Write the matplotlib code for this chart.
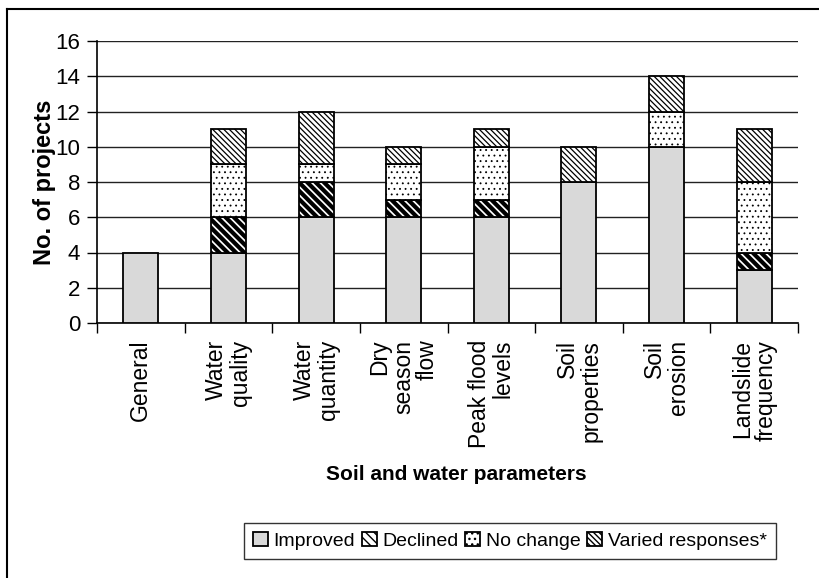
import matplotlib
matplotlib.use("Agg")
import matplotlib.pyplot as plt
import numpy as np
from matplotlib.patches import Patch
from matplotlib.lines import Line2D

plt.rcParams['font.family'] = ['Liberation Sans', 'DejaVu Sans']

categories = ["General", "Water\nquality", "Water\nquantity", "Dry\nseason\nflow",
              "Peak flood\nlevels", "Soil\nproperties", "Soil\nerosion", "Landslide\nfrequency"]
improved = [4, 4, 6, 6, 6, 8, 10, 3]
declined = [0, 2, 2, 1, 1, 0, 0, 1]
no_change = [0, 3, 1, 2, 3, 0, 2, 4]
varied = [0, 2, 3, 1, 1, 2, 2, 3]
series_names = ["Improved", "Declined", "No change", "Varied responses*"]
yticks = [0, 2, 4, 6, 8, 10, 12, 14, 16]

fig = plt.figure(figsize=(8.19, 5.78), dpi=100)
ax = fig.add_axes([97/819, 1 - 323/578, 701/819, 282/578])

x = np.arange(len(categories))
w = 0.4
styles = [
    dict(facecolor="#d9d9d9", hatch=None, hlw=1.0, leg_hlw=1.0),
    dict(facecolor="white", hatch="\\\\\\\\", hlw=3.0, leg_hlw=2.2),
    dict(facecolor="white", hatch="...", hlw=0.6, leg_hlw=0.6),
    dict(facecolor="white", hatch="\\\\\\\\\\\\", hlw=0.9, leg_hlw=0.8),
]
data = [improved, declined, no_change, varied]
bottom = np.zeros(len(categories))
handles = []
for vals, st, name in zip(data, styles, series_names):
    vals = np.array(vals, dtype=float)
    with plt.rc_context({'hatch.linewidth': st['hlw']}):
        bars = ax.bar(x, vals, w, bottom=bottom, facecolor=st['facecolor'],
                      edgecolor="black", linewidth=1.3, hatch=st['hatch'], zorder=3)
        for b in bars:
            try:
                b.set_hatch_linewidth(st['hlw'])
            except Exception:
                pass
            if b.get_height() == 0:
                b.set_visible(False)
    with plt.rc_context({'hatch.linewidth': st['leg_hlw']}):
        h = Patch(facecolor=st['facecolor'], edgecolor="black", hatch=st['hatch'], linewidth=1.3)
        try:
            h.set_hatch_linewidth(st['leg_hlw'])
        except Exception:
            pass
    handles.append(h)
    bottom += vals

ax.set_xlim(-0.5, len(categories) - 0.5)
ax.set_ylim(0, 16)
ax.set_yticks(yticks)
ax.set_yticklabels([str(v) for v in yticks], fontsize=16)
ax.yaxis.grid(True, color="#222222", linewidth=1.0, zorder=0)
ax.set_axisbelow(True)
for s in ["top", "right"]:
    ax.spines[s].set_visible(False)
ax.spines["left"].set_linewidth(1.2)
ax.spines["bottom"].set_linewidth(1.2)
ax.tick_params(axis='y', direction='out', length=7, width=1.0, pad=5)

ax.set_xticks(x)
ax.set_xticklabels([])
ax.tick_params(axis='x', which='major', length=0)
ax.set_xticks(np.arange(len(categories) + 1) - 0.5, minor=True)
ax.tick_params(axis='x', which='minor', direction='out', length=7, width=1.0)

for xi, lab in zip(x, categories):
    ax.text(xi, -0.95, lab, rotation=90, ha='center', va='top', multialignment='right',
            fontsize=16.5, transform=ax.transData, clip_on=False, linespacing=1.05)

ax.text(-0.0755, 0.5, "No. of projects", rotation=90, ha='center', va='center',
        fontsize=17, fontweight='bold', transform=ax.transAxes)
fig.text(456 / 819, 1 - 474/578, "Soil and water parameters", ha='center', va='center',
         fontsize=15, fontweight='bold')

leg = fig.legend(handles, series_names, loc='center', bbox_to_anchor=(510/819, 1 - 541/578),
                 ncol=4, frameon=True, fontsize=14, handlelength=0.75, handleheight=0.75,
                 handletextpad=0.3, columnspacing=0.35, borderpad=0.45, fancybox=False)
leg.get_frame().set_edgecolor("black")
leg.get_frame().set_linewidth(1.0)

# figure border (top and left edges visible)
fig.add_artist(Line2D([7/819, 7/819], [0, 1 - 9/578], transform=fig.transFigure, color="black", linewidth=1.5))
fig.add_artist(Line2D([7/819, 1], [1 - 9/578, 1 - 9/578], transform=fig.transFigure, color="black", linewidth=1.5))

fig.savefig("out.png", dpi=100)
